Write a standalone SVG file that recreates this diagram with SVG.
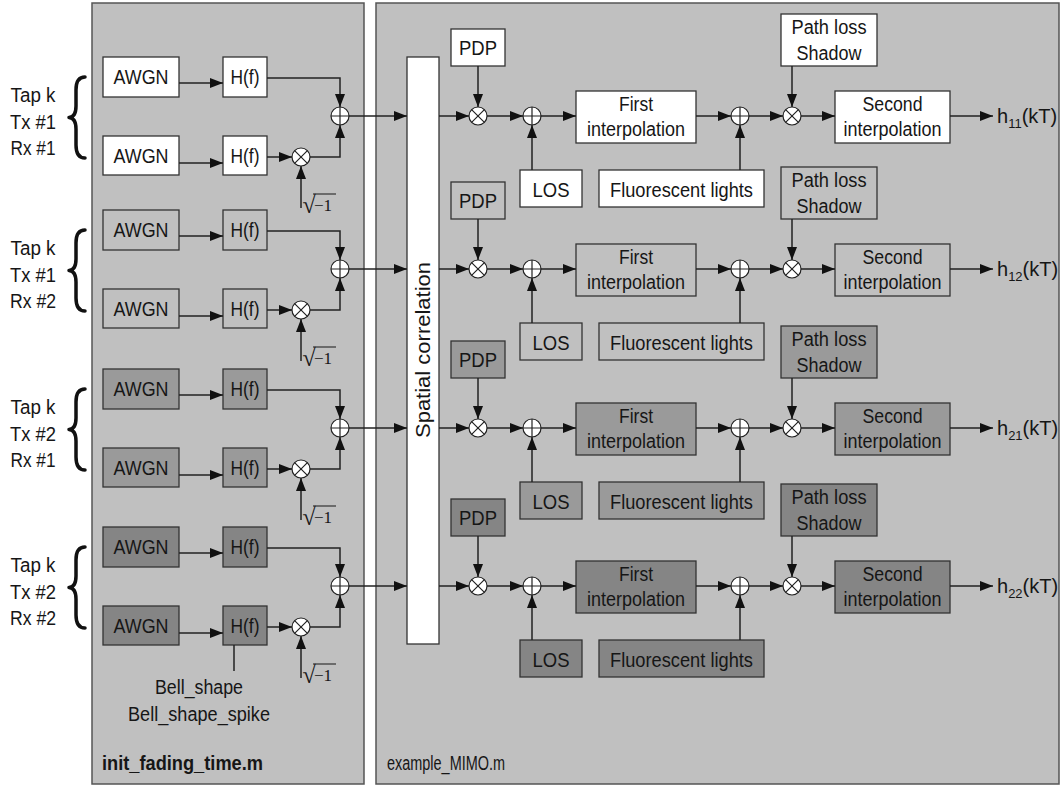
<svg xmlns="http://www.w3.org/2000/svg" xmlns:xlink="http://www.w3.org/1999/xlink" width="1062" height="787" viewBox="0 0 1062 787">
<style>
.panel{fill:#c0c0c0;stroke:#555;stroke-width:1.5}
.box{stroke:#333;stroke-width:1.3}
.b1{fill:#ffffff}
.b2{fill:#c0c0c0}
.b3{fill:#9a9a9a}
.b4{fill:#858585}
.t{font-family:"Liberation Sans",Arial,sans-serif;font-size:20px;fill:#161616;text-anchor:middle}
.tl{font-family:"Liberation Sans",Arial,sans-serif;font-size:20px;fill:#161616}
.m{font-family:"Liberation Serif","Times New Roman",serif;fill:#161616}
.c{fill:none;stroke:#222;stroke-width:1.5}
.ca{fill:none;stroke:#222;stroke-width:1.5;marker-end:url(#ah)}
.br{fill:none;stroke:#111;stroke-width:3.5;stroke-linecap:round;stroke-linejoin:round}
</style>
<defs>
<marker id="ah" markerUnits="userSpaceOnUse" markerWidth="13" markerHeight="10" refX="13" refY="5" orient="auto">
<path d="M0,0 L13,5 L0,10 z" fill="#111"/>
</marker>
<g id="sum"><circle r="9" fill="#fff" stroke="#222" stroke-width="1.2"/><path d="M-9,0H9M0,-9V9" stroke="#222" stroke-width="1.2"/></g>
<g id="prod"><circle r="9" fill="#fff" stroke="#222" stroke-width="1.2"/><path d="M-6.4,-6.4L6.4,6.4M-6.4,6.4L6.4,-6.4" stroke="#222" stroke-width="1.2"/></g>
</defs>

<g id="panels">
<rect class="panel" x="92" y="3" width="272" height="781"/>
<rect class="panel" x="376" y="3" width="683" height="781"/>
<text class="tl" x="102" y="770" font-size="21" font-weight="bold" textLength="161" lengthAdjust="spacingAndGlyphs">init_fading_time.m</text>
<text class="tl" x="387" y="770" textLength="118" lengthAdjust="spacingAndGlyphs">example_MIMO.m</text>
</g>

<g id="spatial-correlation">
<rect class="box b1" x="407" y="57" width="32" height="587"/>
<text class="t" transform="translate(430,350) rotate(-90)" textLength="176" lengthAdjust="spacingAndGlyphs">Spatial correlation</text>
</g>

<!-- ================= ROW 1 ================= -->
<g id="row1-label">
<path class="br" d="M85,77 Q76,77 76,90 L76,106 Q76,117 69,117.5 Q76,118 76,129 L76,145 Q76,158 85,158"/>
<text class="t" x="33" y="102" textLength="45" lengthAdjust="spacingAndGlyphs">Tap k</text><text class="t" x="33" y="129" textLength="46" lengthAdjust="spacingAndGlyphs">Tx #1</text><text class="t" x="33" y="155" textLength="45" lengthAdjust="spacingAndGlyphs">Rx #1</text>
</g>
<g id="row1-awgn-a"><rect class="box b1" x="103" y="57" width="76" height="40"/><text class="t" x="141" y="84" textLength="55" lengthAdjust="spacingAndGlyphs">AWGN</text></g>
<g id="row1-hf-a"><rect class="box b1" x="223" y="57" width="44" height="40"/><text class="t" x="245" y="84" textLength="29" lengthAdjust="spacingAndGlyphs">H(f)</text></g>
<g id="row1-awgn-b"><rect class="box b1" x="103" y="136" width="76" height="39"/><text class="t" x="141" y="163" textLength="55" lengthAdjust="spacingAndGlyphs">AWGN</text></g>
<g id="row1-hf-b"><rect class="box b1" x="223" y="136" width="44" height="39"/><text class="t" x="245" y="163" textLength="29" lengthAdjust="spacingAndGlyphs">H(f)</text></g>
<g id="row1-mul-j"><use xlink:href="#prod" x="301" y="157"/></g>
<g id="row1-sum-iq"><use xlink:href="#sum" x="340" y="116"/></g>
<g id="row1-sqrt"><text class="m" x="302.5" y="213" font-size="24">√</text><text class="m" x="314" y="211" font-size="17">−1</text><line x1="313" y1="194" x2="336" y2="194" stroke="#161616" stroke-width="1"/></g>
<g id="row1-pdp"><rect class="box b1" x="451" y="29" width="54" height="37"/><text class="t" x="478" y="55" textLength="38" lengthAdjust="spacingAndGlyphs">PDP</text></g>
<g id="row1-mul-pdp"><use xlink:href="#prod" x="478" y="116"/></g>
<g id="row1-sum-los"><use xlink:href="#sum" x="532" y="116"/></g>
<g id="row1-los"><rect class="box b1" x="520" y="170" width="62" height="37"/><text class="t" x="551" y="197" textLength="37" lengthAdjust="spacingAndGlyphs">LOS</text></g>
<g id="row1-first"><rect class="box b1" x="576" y="91" width="120" height="52"/><text class="t" x="636" y="110.5" textLength="34" lengthAdjust="spacingAndGlyphs">First</text><text class="t" x="636" y="135.5" textLength="98" lengthAdjust="spacingAndGlyphs">interpolation</text></g>
<g id="row1-fluo"><rect class="box b1" x="599" y="170" width="165" height="37"/><text class="t" x="681.5" y="197" textLength="143" lengthAdjust="spacingAndGlyphs">Fluorescent lights</text></g>
<g id="row1-sum-fluo"><use xlink:href="#sum" x="740" y="116"/></g>
<g id="row1-mul-pl"><use xlink:href="#prod" x="792" y="116"/></g>
<g id="row1-pathloss"><rect class="box b1" x="781" y="14" width="96" height="52"/><text class="t" x="829" y="33.5" textLength="75" lengthAdjust="spacingAndGlyphs">Path loss</text><text class="t" x="829" y="60" textLength="65" lengthAdjust="spacingAndGlyphs">Shadow</text></g>
<g id="row1-second"><rect class="box b1" x="835" y="91" width="115" height="52"/><text class="t" x="892.5" y="110.5" textLength="60" lengthAdjust="spacingAndGlyphs">Second</text><text class="t" x="892.5" y="135.5" textLength="98" lengthAdjust="spacingAndGlyphs">interpolation</text></g>
<g id="row1-out"><text class="tl" x="997" y="123">h<tspan font-size="13" dy="5">11</tspan><tspan dy="-5">(kT)</tspan></text></g>

<!-- ================= ROW 2 ================= -->
<g transform="translate(0,153)">
<g id="row2-label">
<path class="br" d="M85,77 Q76,77 76,90 L76,106 Q76,117 69,117.5 Q76,118 76,129 L76,145 Q76,158 85,158"/>
<text class="t" x="33" y="102" textLength="45" lengthAdjust="spacingAndGlyphs">Tap k</text><text class="t" x="33" y="129" textLength="46" lengthAdjust="spacingAndGlyphs">Tx #1</text><text class="t" x="33" y="155" textLength="46" lengthAdjust="spacingAndGlyphs">Rx #2</text>
</g>
<g id="row2-awgn-a"><rect class="box b2" x="103" y="57" width="76" height="40"/><text class="t" x="141" y="84" textLength="55" lengthAdjust="spacingAndGlyphs">AWGN</text></g>
<g id="row2-hf-a"><rect class="box b2" x="223" y="57" width="44" height="40"/><text class="t" x="245" y="84" textLength="29" lengthAdjust="spacingAndGlyphs">H(f)</text></g>
<g id="row2-awgn-b"><rect class="box b2" x="103" y="136" width="76" height="39"/><text class="t" x="141" y="163" textLength="55" lengthAdjust="spacingAndGlyphs">AWGN</text></g>
<g id="row2-hf-b"><rect class="box b2" x="223" y="136" width="44" height="39"/><text class="t" x="245" y="163" textLength="29" lengthAdjust="spacingAndGlyphs">H(f)</text></g>
<g id="row2-mul-j"><use xlink:href="#prod" x="301" y="157"/></g>
<g id="row2-sum-iq"><use xlink:href="#sum" x="340" y="116"/></g>
<g id="row2-sqrt"><text class="m" x="302.5" y="213" font-size="24">√</text><text class="m" x="314" y="211" font-size="17">−1</text><line x1="313" y1="194" x2="336" y2="194" stroke="#161616" stroke-width="1"/></g>
<g id="row2-pdp"><rect class="box b2" x="451" y="29" width="54" height="37"/><text class="t" x="478" y="55" textLength="38" lengthAdjust="spacingAndGlyphs">PDP</text></g>
<g id="row2-mul-pdp"><use xlink:href="#prod" x="478" y="116"/></g>
<g id="row2-sum-los"><use xlink:href="#sum" x="532" y="116"/></g>
<g id="row2-los"><rect class="box b2" x="520" y="170" width="62" height="37"/><text class="t" x="551" y="197" textLength="37" lengthAdjust="spacingAndGlyphs">LOS</text></g>
<g id="row2-first"><rect class="box b2" x="576" y="91" width="120" height="52"/><text class="t" x="636" y="110.5" textLength="34" lengthAdjust="spacingAndGlyphs">First</text><text class="t" x="636" y="135.5" textLength="98" lengthAdjust="spacingAndGlyphs">interpolation</text></g>
<g id="row2-fluo"><rect class="box b2" x="599" y="170" width="165" height="37"/><text class="t" x="681.5" y="197" textLength="143" lengthAdjust="spacingAndGlyphs">Fluorescent lights</text></g>
<g id="row2-sum-fluo"><use xlink:href="#sum" x="740" y="116"/></g>
<g id="row2-mul-pl"><use xlink:href="#prod" x="792" y="116"/></g>
<g id="row2-pathloss"><rect class="box b2" x="781" y="14" width="96" height="52"/><text class="t" x="829" y="33.5" textLength="75" lengthAdjust="spacingAndGlyphs">Path loss</text><text class="t" x="829" y="60" textLength="65" lengthAdjust="spacingAndGlyphs">Shadow</text></g>
<g id="row2-second"><rect class="box b2" x="835" y="91" width="115" height="52"/><text class="t" x="892.5" y="110.5" textLength="60" lengthAdjust="spacingAndGlyphs">Second</text><text class="t" x="892.5" y="135.5" textLength="98" lengthAdjust="spacingAndGlyphs">interpolation</text></g>
<g id="row2-out"><text class="tl" x="997" y="123">h<tspan font-size="13" dy="5">12</tspan><tspan dy="-5">(kT)</tspan></text></g>
</g>

<!-- ================= ROW 3 ================= -->
<g transform="translate(0,312)">
<g id="row3-label">
<path class="br" d="M85,77 Q76,77 76,90 L76,106 Q76,117 69,117.5 Q76,118 76,129 L76,145 Q76,158 85,158"/>
<text class="t" x="33" y="102" textLength="45" lengthAdjust="spacingAndGlyphs">Tap k</text><text class="t" x="33" y="129" textLength="46" lengthAdjust="spacingAndGlyphs">Tx #2</text><text class="t" x="33" y="155" textLength="45" lengthAdjust="spacingAndGlyphs">Rx #1</text>
</g>
<g id="row3-awgn-a"><rect class="box b3" x="103" y="57" width="76" height="40"/><text class="t" x="141" y="84" textLength="55" lengthAdjust="spacingAndGlyphs">AWGN</text></g>
<g id="row3-hf-a"><rect class="box b3" x="223" y="57" width="44" height="40"/><text class="t" x="245" y="84" textLength="29" lengthAdjust="spacingAndGlyphs">H(f)</text></g>
<g id="row3-awgn-b"><rect class="box b3" x="103" y="136" width="76" height="39"/><text class="t" x="141" y="163" textLength="55" lengthAdjust="spacingAndGlyphs">AWGN</text></g>
<g id="row3-hf-b"><rect class="box b3" x="223" y="136" width="44" height="39"/><text class="t" x="245" y="163" textLength="29" lengthAdjust="spacingAndGlyphs">H(f)</text></g>
<g id="row3-mul-j"><use xlink:href="#prod" x="301" y="157"/></g>
<g id="row3-sum-iq"><use xlink:href="#sum" x="340" y="116"/></g>
<g id="row3-sqrt"><text class="m" x="302.5" y="213" font-size="24">√</text><text class="m" x="314" y="211" font-size="17">−1</text><line x1="313" y1="194" x2="336" y2="194" stroke="#161616" stroke-width="1"/></g>
<g id="row3-pdp"><rect class="box b3" x="451" y="29" width="54" height="37"/><text class="t" x="478" y="55" textLength="38" lengthAdjust="spacingAndGlyphs">PDP</text></g>
<g id="row3-mul-pdp"><use xlink:href="#prod" x="478" y="116"/></g>
<g id="row3-sum-los"><use xlink:href="#sum" x="532" y="116"/></g>
<g id="row3-los"><rect class="box b3" x="520" y="170" width="62" height="37"/><text class="t" x="551" y="197" textLength="37" lengthAdjust="spacingAndGlyphs">LOS</text></g>
<g id="row3-first"><rect class="box b3" x="576" y="91" width="120" height="52"/><text class="t" x="636" y="110.5" textLength="34" lengthAdjust="spacingAndGlyphs">First</text><text class="t" x="636" y="135.5" textLength="98" lengthAdjust="spacingAndGlyphs">interpolation</text></g>
<g id="row3-fluo"><rect class="box b3" x="599" y="170" width="165" height="37"/><text class="t" x="681.5" y="197" textLength="143" lengthAdjust="spacingAndGlyphs">Fluorescent lights</text></g>
<g id="row3-sum-fluo"><use xlink:href="#sum" x="740" y="116"/></g>
<g id="row3-mul-pl"><use xlink:href="#prod" x="792" y="116"/></g>
<g id="row3-pathloss"><rect class="box b3" x="781" y="14" width="96" height="52"/><text class="t" x="829" y="33.5" textLength="75" lengthAdjust="spacingAndGlyphs">Path loss</text><text class="t" x="829" y="60" textLength="65" lengthAdjust="spacingAndGlyphs">Shadow</text></g>
<g id="row3-second"><rect class="box b3" x="835" y="91" width="115" height="52"/><text class="t" x="892.5" y="110.5" textLength="60" lengthAdjust="spacingAndGlyphs">Second</text><text class="t" x="892.5" y="135.5" textLength="98" lengthAdjust="spacingAndGlyphs">interpolation</text></g>
<g id="row3-out"><text class="tl" x="997" y="123">h<tspan font-size="13" dy="5">21</tspan><tspan dy="-5">(kT)</tspan></text></g>
</g>

<!-- ================= ROW 4 ================= -->
<g transform="translate(0,470)">
<g id="row4-label">
<path class="br" d="M85,77 Q76,77 76,90 L76,106 Q76,117 69,117.5 Q76,118 76,129 L76,145 Q76,158 85,158"/>
<text class="t" x="33" y="102" textLength="45" lengthAdjust="spacingAndGlyphs">Tap k</text><text class="t" x="33" y="129" textLength="46" lengthAdjust="spacingAndGlyphs">Tx #2</text><text class="t" x="33" y="155" textLength="46" lengthAdjust="spacingAndGlyphs">Rx #2</text>
</g>
<g id="row4-awgn-a"><rect class="box b4" x="103" y="57" width="76" height="40"/><text class="t" x="141" y="84" textLength="55" lengthAdjust="spacingAndGlyphs">AWGN</text></g>
<g id="row4-hf-a"><rect class="box b4" x="223" y="57" width="44" height="40"/><text class="t" x="245" y="84" textLength="29" lengthAdjust="spacingAndGlyphs">H(f)</text></g>
<g id="row4-awgn-b"><rect class="box b4" x="103" y="136" width="76" height="39"/><text class="t" x="141" y="163" textLength="55" lengthAdjust="spacingAndGlyphs">AWGN</text></g>
<g id="row4-hf-b"><rect class="box b4" x="223" y="136" width="44" height="39"/><text class="t" x="245" y="163" textLength="29" lengthAdjust="spacingAndGlyphs">H(f)</text></g>
<g id="row4-mul-j"><use xlink:href="#prod" x="301" y="157"/></g>
<g id="row4-sum-iq"><use xlink:href="#sum" x="340" y="116"/></g>
<g id="row4-sqrt"><text class="m" x="302.5" y="213" font-size="24">√</text><text class="m" x="314" y="211" font-size="17">−1</text><line x1="313" y1="194" x2="336" y2="194" stroke="#161616" stroke-width="1"/></g>
<g id="row4-pdp"><rect class="box b4" x="451" y="29" width="54" height="37"/><text class="t" x="478" y="55" textLength="38" lengthAdjust="spacingAndGlyphs">PDP</text></g>
<g id="row4-mul-pdp"><use xlink:href="#prod" x="478" y="116"/></g>
<g id="row4-sum-los"><use xlink:href="#sum" x="532" y="116"/></g>
<g id="row4-los"><rect class="box b4" x="520" y="170" width="62" height="37"/><text class="t" x="551" y="197" textLength="37" lengthAdjust="spacingAndGlyphs">LOS</text></g>
<g id="row4-first"><rect class="box b4" x="576" y="91" width="120" height="52"/><text class="t" x="636" y="110.5" textLength="34" lengthAdjust="spacingAndGlyphs">First</text><text class="t" x="636" y="135.5" textLength="98" lengthAdjust="spacingAndGlyphs">interpolation</text></g>
<g id="row4-fluo"><rect class="box b4" x="599" y="170" width="165" height="37"/><text class="t" x="681.5" y="197" textLength="143" lengthAdjust="spacingAndGlyphs">Fluorescent lights</text></g>
<g id="row4-sum-fluo"><use xlink:href="#sum" x="740" y="116"/></g>
<g id="row4-mul-pl"><use xlink:href="#prod" x="792" y="116"/></g>
<g id="row4-pathloss"><rect class="box b4" x="781" y="14" width="96" height="52"/><text class="t" x="829" y="33.5" textLength="75" lengthAdjust="spacingAndGlyphs">Path loss</text><text class="t" x="829" y="60" textLength="65" lengthAdjust="spacingAndGlyphs">Shadow</text></g>
<g id="row4-second"><rect class="box b4" x="835" y="91" width="115" height="52"/><text class="t" x="892.5" y="110.5" textLength="60" lengthAdjust="spacingAndGlyphs">Second</text><text class="t" x="892.5" y="135.5" textLength="98" lengthAdjust="spacingAndGlyphs">interpolation</text></g>
<g id="row4-out"><text class="tl" x="997" y="123">h<tspan font-size="13" dy="5">22</tspan><tspan dy="-5">(kT)</tspan></text></g>
</g>

<g id="bell-shape">
<text class="t" x="199" y="694" textLength="88" lengthAdjust="spacingAndGlyphs">Bell_shape</text>
<text class="t" x="199" y="721" textLength="142" lengthAdjust="spacingAndGlyphs">Bell_shape_spike</text>
</g>

<g id="connectors">
<line class="c" x1="234" y1="645" x2="234" y2="671"/>
<g id="conn-row1">
<path class="ca" d="M179,83H223"/><path class="ca" d="M267,78H340V107"/>
<path class="ca" d="M179,163H223"/><path class="ca" d="M267,157H292"/>
<path class="ca" d="M310,157H340V125"/><path class="ca" d="M301,208V166"/>
<path class="ca" d="M349,116H407"/>
<path class="ca" d="M439,116H469"/><path class="ca" d="M478,66V107"/>
<path class="ca" d="M487,116H523"/><path class="ca" d="M532,170V125"/>
<path class="ca" d="M541,116H576"/><path class="ca" d="M696,116H731"/>
<path class="ca" d="M740,170V125"/><path class="ca" d="M749,116H783"/>
<path class="ca" d="M792,66V107"/><path class="ca" d="M801,116H835"/>
<path class="ca" d="M950,116H993"/>
</g>
<use xlink:href="#conn-row1" id="conn-row2" y="153"/>
<use xlink:href="#conn-row1" id="conn-row3" y="312"/>
<use xlink:href="#conn-row1" id="conn-row4" y="470"/>
</g>
</svg>
